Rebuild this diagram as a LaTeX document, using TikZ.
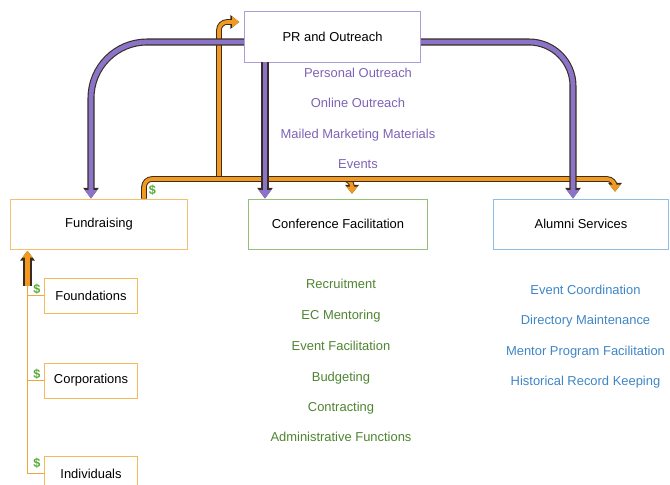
\documentclass[tikz,border=0pt]{standalone}
\usepackage{fontspec}
\setmainfont{Liberation Sans}
\usetikzlibrary{arrows.meta,positioning}

\definecolor{prborder}{HTML}{AE9CD8}
\definecolor{frborder}{HTML}{F6BF70}
\definecolor{cfborder}{HTML}{96BF78}
\definecolor{asborder}{HTML}{90BDE6}
\definecolor{srcborder}{HTML}{F5B85C}
\definecolor{purplefill}{HTML}{8A74C9}
\definecolor{orangefill}{HTML}{F29A1F}
\definecolor{srcorange}{HTML}{F3A53C}
\definecolor{outline}{HTML}{3A2C22}
\definecolor{prtext}{HTML}{7E62B5}
\definecolor{cftext}{HTML}{4E8430}
\definecolor{astext}{HTML}{3E85C6}
\definecolor{dollargreen}{HTML}{5AAA3A}

\tikzset{
  box/.style={draw, line width=0.7pt, minimum width=4.4cm, minimum height=1.25cm, inner sep=0pt},
  srcbox/.style={draw=srcborder, line width=0.7pt, minimum width=2.3cm, minimum height=0.875cm, inner sep=0pt},
  item/.style={inner sep=0pt, text height=1.6ex, text depth=0.4ex},
  dollar/.style={text=dollargreen, font=\fontsize{9}{10}\selectfont\bfseries, inner sep=0.5pt},
  purplearrow/.style={draw=purplefill, line width=3.4pt,
    -{Triangle[length=6pt,width=8.5pt]},
    preaction={draw=outline, line width=5pt, -{Triangle[length=7.5pt,width=10.5pt]}}},
  orangearrow/.style={draw=orangefill, line width=2.6pt,
    -{Triangle[length=5pt,width=7.5pt]},
    preaction={draw=outline, line width=4pt, -{Triangle[length=6.3pt,width=9.5pt]}}},
  fundarrow/.style={draw=orangefill, line width=4pt,
    -{Triangle[length=5pt,width=7.5pt]},
    preaction={draw=outline, line width=6.8pt, -{Triangle[length=7pt,width=10pt]}}},
  srcline/.style={draw=srcorange, line width=1.4pt},
}

\begin{document}
\begin{tikzpicture}[x=0.025cm, y=-0.025cm, font=\fontsize{9.2}{11}\selectfont]
\clip (0,0) rectangle (670,485);
\useasboundingbox (0,0) rectangle (670,485);

% Main boxes
\node[box, draw=prborder]                    (PR) at (332.5,37)  {PR and Outreach};
\node[box, draw=frborder]                    (FR) at (99,224)    {Fundraising};
\node[box, draw=cfborder, minimum width=4.45cm] (CF) at (338,224) {Conference Facilitation};
\node[box, draw=asborder, minimum width=4.35cm] (AS) at (581,224) {Alumni Services};

% Sources
\node[srcbox] (Fnd)  at (91,295.5) {Foundations};
\node[srcbox] (Corp) at (91,380.5) {Corporations};
\node[srcbox] (Ind)  at (91,473.5) {Individuals};

% PR tasks
\node[item, text=prtext] (po) at (358,73)  {Personal Outreach};
\node[item, text=prtext] (oo) at (358,103) {Online Outreach};
\node[item, text=prtext] (mm) at (358,134) {Mailed Marketing Materials};
\node[item, text=prtext] (ev) at (358,164) {Events};

% Conference tasks
\node[item, text=cftext] (rec) at (341,284) {Recruitment};
\node[item, text=cftext] (ecm) at (341,315) {EC Mentoring};
\node[item, text=cftext] (evf) at (341,346) {Event Facilitation};
\node[item, text=cftext] (bud) at (341,377) {Budgeting};
\node[item, text=cftext] (con) at (341,407) {Contracting};
\node[item, text=cftext] (adm) at (341,437) {Administrative Functions};

% Alumni tasks
\node[item, text=astext] (evc) at (585.5,290) {Event Coordination};
\node[item, text=astext] (dir) at (585.5,320) {Directory Maintenance};
\node[item, text=astext] (mpf) at (585.5,351) {Mentor Program Facilitation};
\node[item, text=astext] (hrk) at (585.5,381) {Historical Record Keeping};

% Money connectors
\coordinate (frup) at ([xshift=1.125cm]FR.north);
\coordinate (bus) at (219,179);
\draw[orangearrow, rounded corners=0.2cm, shorten >=0.12cm] (bus) -| ([xshift=0.35cm]CF.north);
\draw[orangearrow, rounded corners=0.2cm, shorten >=0.12cm] (bus) |- ([yshift=0.375cm]PR.west);
\draw[orangearrow, rounded corners=0.2cm, shorten >=0.17cm] (frup) |- (bus) -| ([xshift=0.85cm]AS.north);
\node[dollar, anchor=south west] at ([xshift=0.1cm,yshift=0.05cm]frup) {\$};

% Outreach connectors
\coordinate (prdown) at ([xshift=0.525cm]PR.south west);
\draw[purplearrow, rounded corners=1.4cm] ([yshift=-0.125cm]PR.west) -| ([xshift=-0.2cm]FR.north);
\draw[purplearrow] (prdown) -- (prdown |- CF.north);
\draw[purplearrow, rounded corners=1.1cm] ([yshift=-0.125cm]PR.east) -| ([xshift=-0.2cm]AS.north);

% Sources to fundraising
\coordinate (fundtop) at ([xshift=0.425cm, yshift=-0.9cm]FR.south west);
\draw[srcline] (fundtop) |- (Ind.west);
\draw[srcline] (Fnd.west -| fundtop) -- (Fnd.west);
\draw[srcline] (Corp.west -| fundtop) -- (Corp.west);
\draw[fundarrow] (fundtop) -- ([yshift=-0.03cm]fundtop |- FR.south);
\node[dollar, anchor=south west] at ([xshift=0.12cm]Fnd.west -| fundtop) {\$};
\node[dollar, anchor=south west] at ([xshift=0.12cm]Corp.west -| fundtop) {\$};
\node[dollar, anchor=south west] at ([xshift=0.12cm,yshift=0.1cm]Ind.west -| fundtop) {\$};
\end{tikzpicture}
\end{document}
